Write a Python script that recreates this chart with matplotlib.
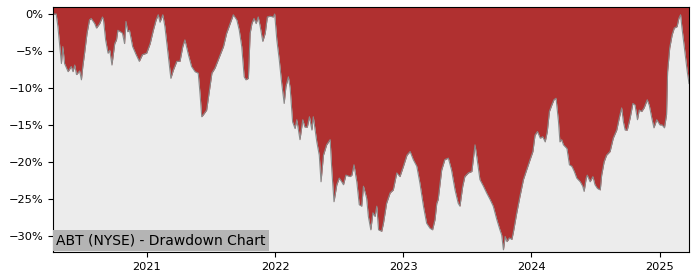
import pandas as pd
import matplotlib
matplotlib.use('Agg')
from matplotlib import pyplot as plt
import matplotlib.dates as mdates
from matplotlib.ticker import PercentFormatter

# drawdown, in percent
dates = [
    '2020-04-08', '2020-04-17', '2020-04-22', '2020-05-02', '2020-05-06', '2020-05-11',
    '2020-05-21', '2020-05-30', '2020-06-04', '2020-06-09', '2020-06-14', '2020-06-23',
    '2020-06-28', '2020-07-02', '2020-07-07', '2020-07-14', '2020-07-21', '2020-07-26',
    '2020-08-05', '2020-08-10', '2020-08-19', '2020-08-27', '2020-08-30', '2020-09-05',
    '2020-09-12', '2020-09-17', '2020-09-23', '2020-10-01', '2020-10-06', '2020-10-10',
    '2020-10-17', '2020-10-23', '2020-10-29', '2020-11-02', '2020-11-07', '2020-11-12',
    '2020-11-21', '2020-12-01', '2020-12-10', '2020-12-19', '2020-12-31',
    '2021-01-10', '2021-01-19', '2021-01-27', '2021-02-02', '2021-02-07', '2021-02-15',
    '2021-02-21', '2021-03-03', '2021-03-10', '2021-03-17', '2021-03-27', '2021-04-05',
    '2021-04-13', '2021-04-19', '2021-04-29', '2021-05-08', '2021-05-18', '2021-05-27',
    '2021-06-01', '2021-06-06', '2021-06-11', '2021-06-20', '2021-06-28', '2021-07-05',
    '2021-07-14', '2021-07-23', '2021-08-07', '2021-08-16', '2021-08-26', '2021-09-04',
    '2021-09-14', '2021-09-21', '2021-09-28', '2021-10-05', '2021-10-10', '2021-10-17',
    '2021-10-22', '2021-10-27', '2021-11-02', '2021-11-08', '2021-11-14', '2021-11-19',
    '2021-11-27', '2021-12-04', '2021-12-10', '2021-12-18', '2021-12-27', '2021-12-31',
    '2022-01-06', '2022-01-13', '2022-01-20', '2022-01-27', '2022-02-01', '2022-02-08',
    '2022-02-13', '2022-02-20', '2022-02-27', '2022-03-04', '2022-03-13', '2022-03-21',
    '2022-03-27', '2022-04-03', '2022-04-09', '2022-04-16', '2022-04-20', '2022-04-30',
    '2022-05-07', '2022-05-12', '2022-05-19', '2022-05-28', '2022-06-07', '2022-06-12',
    '2022-06-18', '2022-06-26', '2022-07-03', '2022-07-10', '2022-07-15', '2022-07-22',
    '2022-08-03', '2022-08-08', '2022-08-14', '2022-08-22', '2022-08-29', '2022-09-05',
    '2022-09-10', '2022-09-19', '2022-09-24', '2022-10-01', '2022-10-07', '2022-10-13',
    '2022-10-18', '2022-10-23', '2022-11-01', '2022-11-06', '2022-11-15', '2022-11-25',
    '2022-12-04', '2022-12-14', '2022-12-23',
    '2023-01-02', '2023-01-12', '2023-01-21', '2023-01-30', '2023-02-09', '2023-02-18',
    '2023-02-28', '2023-03-09', '2023-03-19', '2023-03-26', '2023-04-02', '2023-04-07',
    '2023-04-11', '2023-04-21', '2023-04-30', '2023-05-10', '2023-05-19', '2023-05-29',
    '2023-06-07', '2023-06-12', '2023-06-20', '2023-06-26', '2023-07-06', '2023-07-16',
    '2023-07-25', '2023-07-30', '2023-08-08', '2023-08-18', '2023-08-27', '2023-09-06',
    '2023-09-15', '2023-09-25', '2023-10-04', '2023-10-09', '2023-10-14', '2023-10-19',
    '2023-10-24', '2023-10-31', '2023-11-07', '2023-11-11', '2023-11-21', '2023-11-30',
    '2023-12-10', '2023-12-19', '2023-12-29',
    '2024-01-06', '2024-01-12', '2024-01-19', '2024-01-27', '2024-02-03', '2024-02-10',
    '2024-02-16', '2024-02-22', '2024-02-29', '2024-03-06', '2024-03-12', '2024-03-19',
    '2024-03-23', '2024-03-28', '2024-04-02', '2024-04-12', '2024-04-19', '2024-04-26',
    '2024-05-03', '2024-05-10', '2024-05-20', '2024-05-27', '2024-05-31', '2024-06-06',
    '2024-06-09', '2024-06-17', '2024-06-25', '2024-07-01', '2024-07-08', '2024-07-16',
    '2024-07-20', '2024-07-27', '2024-08-03', '2024-08-13', '2024-08-22', '2024-09-01',
    '2024-09-08', '2024-09-15', '2024-09-20', '2024-09-25', '2024-10-01', '2024-10-09',
    '2024-10-17', '2024-10-23', '2024-10-30', '2024-11-04', '2024-11-11', '2024-11-18',
    '2024-11-27', '2024-12-03', '2024-12-10', '2024-12-16', '2024-12-24',
    '2025-01-02', '2025-01-08', '2025-01-15', '2025-01-21', '2025-01-24', '2025-01-30',
    '2025-02-06', '2025-02-12', '2025-02-20', '2025-02-25', '2025-03-02', '2025-03-06',
    '2025-03-13', '2025-03-21', '2025-03-26',
]
drawdown = [
    0.0, 0.0, -1.7, -6.7, -4.4, -6.7,
    -7.8, -7.1, -7.8, -6.9, -8.2, -7.7,
    -8.9, -7.1, -5.3, -2.6, -0.8, -0.6,
    -1.3, -1.9, -1.3, -0.4, -0.8, -3.5,
    -5.3, -4.9, -6.9, -4.0, -3.5, -2.2,
    -2.4, -2.6, -4.0, -1.0, -2.4, -2.2,
    -4.4, -5.5, -6.4, -5.5, -5.3,
    -4.0, -2.2, -0.8, -0.1, -1.1, -0.1,
    -1.7, -5.8, -8.7, -7.6, -6.4, -6.4,
    -4.4, -3.5, -5.5, -7.1, -7.8, -8.0,
    -10.7, -13.9, -13.6, -13.0, -10.3, -8.0,
    -7.3, -6.2, -4.4, -2.6, -1.3, -0.1,
    -0.8, -2.2, -4.4, -8.5, -8.9, -8.7,
    -2.6, -1.3, -0.6, -1.3, -0.4, -1.5,
    -3.7, -2.6, -0.4, -0.3, -0.4, 0.0,
    -3.5, -6.2, -9.4, -12.1, -9.8, -8.5,
    -10.0, -14.6, -15.5, -14.3, -17.0, -14.3,
    -15.3, -15.3, -13.9, -15.7, -13.9, -17.3,
    -19.1, -22.7, -19.1, -17.7, -17.0, -21.3,
    -25.4, -23.1, -22.2, -22.7, -23.1, -21.8,
    -22.0, -21.8, -20.4, -22.7, -25.8, -26.0,
    -23.3, -24.9, -27.4, -29.2, -26.9, -27.4,
    -26.0, -29.2, -29.4, -28.3, -25.6, -24.2,
    -23.8, -21.5, -22.0,
    -20.6, -19.1, -18.6, -19.7, -20.6, -22.9,
    -26.0, -28.3, -29.0, -29.2, -27.8, -25.6,
    -25.1, -21.1, -19.7, -19.5, -21.1, -23.8,
    -25.6, -26.0, -23.3, -22.0, -21.5, -21.3,
    -17.7, -19.3, -22.4, -23.3, -24.2, -25.1,
    -26.0, -27.8, -29.2, -29.9, -31.9, -30.1,
    -30.8, -30.3, -30.5, -29.6, -26.9, -24.7,
    -22.4, -21.1, -19.7,
    -18.6, -16.4, -15.9, -16.8, -16.6, -17.3,
    -15.9, -13.2, -12.3, -11.6, -11.4, -14.6,
    -17.3, -17.0, -17.7, -18.2, -20.4, -20.6,
    -21.3, -22.2, -22.7, -23.3, -24.0, -22.2,
    -21.8, -22.7, -22.0, -23.1, -23.6, -23.8,
    -21.8, -20.0, -19.1, -18.6, -16.8, -15.7,
    -14.1, -12.7, -14.6, -15.7, -15.7, -14.1,
    -12.1, -12.3, -14.3, -13.0, -13.2, -12.7,
    -11.6, -12.4, -14.1, -15.4, -14.3,
    -15.0, -15.0, -15.4, -13.6, -7.8, -4.6,
    -2.8, -1.9, -1.7, -0.6, -0.1, -1.9,
    -4.6, -7.8, -9.4,
]
title = 'ABT (NYSE) - Drawdown Chart'

x = pd.to_datetime(dates)

fig = plt.figure(figsize=(7, 2.8), dpi=100)
ax = fig.add_axes([0.0757, 0.1, 0.9086, 0.875])
ax.set_facecolor('#ececec')

ymin, ymax = -32.2, 0.95
ax.fill_between(x, drawdown, ymax, color='#b03030', lw=0)
ax.plot(x, drawdown, color='#8a8a8a', lw=0.8)

ax.set_xlim(x[0], x[-1])
ax.set_ylim(ymin, ymax)
ax.yaxis.set_major_formatter(PercentFormatter(xmax=100, decimals=0))
ax.xaxis.set_major_locator(mdates.YearLocator())
ax.xaxis.set_major_formatter(mdates.DateFormatter('%Y'))
ax.tick_params(labelsize=8.2)

ax.annotate(title, xy=(0, 0), xycoords='axes fraction',
            xytext=(2.2, 3.5), textcoords='offset points',
            ha='left', va='bottom', fontsize=10,
            bbox=dict(boxstyle='square,pad=0.25', facecolor='#b4b4b4', edgecolor='none'))

fig.savefig('out.png', dpi=100)
